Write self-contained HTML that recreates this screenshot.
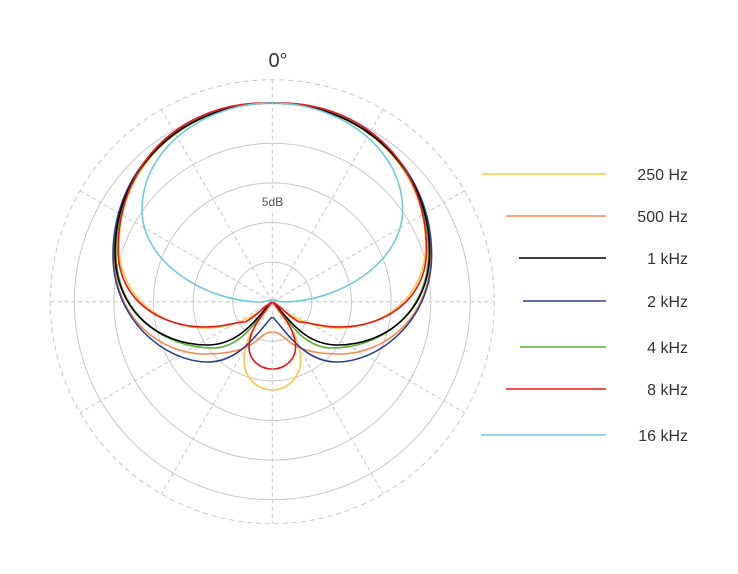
<!DOCTYPE html>
<html><head><style>body{margin:0;background:#fff}svg{display:block}</style></head><body>
<svg width="738" height="574" viewBox="0 0 738 574" xmlns="http://www.w3.org/2000/svg" font-family="Liberation Sans, sans-serif">
<g fill="none" stroke="#c8c8c8" stroke-width="1">
<circle cx="272.3" cy="301.7" r="39.6"/><circle cx="272.3" cy="301.7" r="79.2"/><circle cx="272.3" cy="301.7" r="118.8"/><circle cx="272.3" cy="301.7" r="158.4"/><circle cx="272.3" cy="301.7" r="198"/>
<circle cx="272.3" cy="301.7" r="222" stroke-dasharray="5,4"/>
<g stroke-dasharray="4,3">
<line x1="272.3" y1="79.7" x2="272.3" y2="523.7"/>
<line x1="50.3" y1="301.7" x2="494.3" y2="301.7"/>
<line x1="161.3" y1="109.4" x2="383.3" y2="494"/>
<line x1="383.3" y1="109.4" x2="161.3" y2="494"/>
<line x1="80" y1="190.7" x2="464.6" y2="412.7"/>
<line x1="464.6" y1="190.7" x2="80" y2="412.7"/>
</g></g>
<rect x="257" y="192" width="31" height="17" fill="#fff"/>
<text x="272.5" y="206" font-size="12" fill="#555" text-anchor="middle">5dB</text>
<text x="278" y="67" font-size="20" fill="#333" text-anchor="middle">0°</text>
<defs>
<path id="yl" d="M272,103 C192,103 119,160 119,245 C119,300 165,328 205,328 C240,328 260,312 272,302 M272,302 C262,318 244,335 244,360 C244,380 260,390 272,390"/>
<path id="or" d="M272,103 C185,103 114,165 114,255 C114,318 160,354 205,354 C228,354 245,350 255,342 C262,336 266,332 272,332"/>
<path id="bk" d="M272,103 C188,103 115,163 115,252 C115,312 160,345 207,345 C242,345 258,315 272,302"/>
<path id="bl" d="M272,103 C185,103 113,165 113,255 C113,320 165,362 208,362 C240,362 258,332 272,317"/>
<path id="gr" d="M272,103 C188,103 116,163 116,252 C116,315 165,348 213,348 C243,348 260,315 272,302"/>
<path id="rd" d="M272,103 C185,100 118,160 118,250 C118,300 160,327 205,327 C225,327 235,322 245,322 C255,318 265,305 272,302 M272,302 C262,315 249,330 249,347 C249,360 260,369 272,369"/>
<path id="cy" d="M272,103 C205,103 142,148 142,210 C142,262 205,302 262,302 L272,300"/>
</defs>
<g fill="none" stroke-width="1.6">
<g stroke="#f7c845"><use href="#yl"/><use href="#yl" transform="translate(544.6,0) scale(-1,1)"/></g>
<g stroke="#f78a4e"><use href="#or"/><use href="#or" transform="translate(544.6,0) scale(-1,1)"/></g>
<g stroke="#2b3f93"><use href="#bl"/><use href="#bl" transform="translate(544.6,0) scale(-1,1)"/></g>
<g stroke="#5bb132"><use href="#gr"/><use href="#gr" transform="translate(544.6,0) scale(-1,1)"/></g>
<g stroke="#000"><use href="#bk"/><use href="#bk" transform="translate(544.6,0) scale(-1,1)"/></g>
<g stroke="#e8161b"><use href="#rd"/><use href="#rd" transform="translate(544.6,0) scale(-1,1)"/></g>
<g stroke="#6fcbdc"><use href="#cy"/><use href="#cy" transform="translate(544.6,0) scale(-1,1)"/></g>
</g>
<g stroke-width="1.6">
<line x1="482" y1="174" x2="606" y2="174" stroke="#f7c845"/>
<line x1="506" y1="216" x2="606" y2="216" stroke="#f78a4e"/>
<line x1="519" y1="258" x2="606" y2="258" stroke="#000"/>
<line x1="523" y1="301" x2="606" y2="301" stroke="#2b3f93"/>
<line x1="520" y1="347" x2="606" y2="347" stroke="#5bb132"/>
<line x1="506" y1="389" x2="606" y2="389" stroke="#e8161b"/>
<line x1="481" y1="435" x2="606" y2="435" stroke="#6fcbdc"/>
</g>
<g font-size="16" fill="#333" text-anchor="end">
<text x="688" y="180">250 Hz</text>
<text x="688" y="222">500 Hz</text>
<text x="688" y="264">1 kHz</text>
<text x="688" y="307">2 kHz</text>
<text x="688" y="353">4 kHz</text>
<text x="688" y="395">8 kHz</text>
<text x="688" y="441">16 kHz</text>
</g>
</svg>
</body></html>
